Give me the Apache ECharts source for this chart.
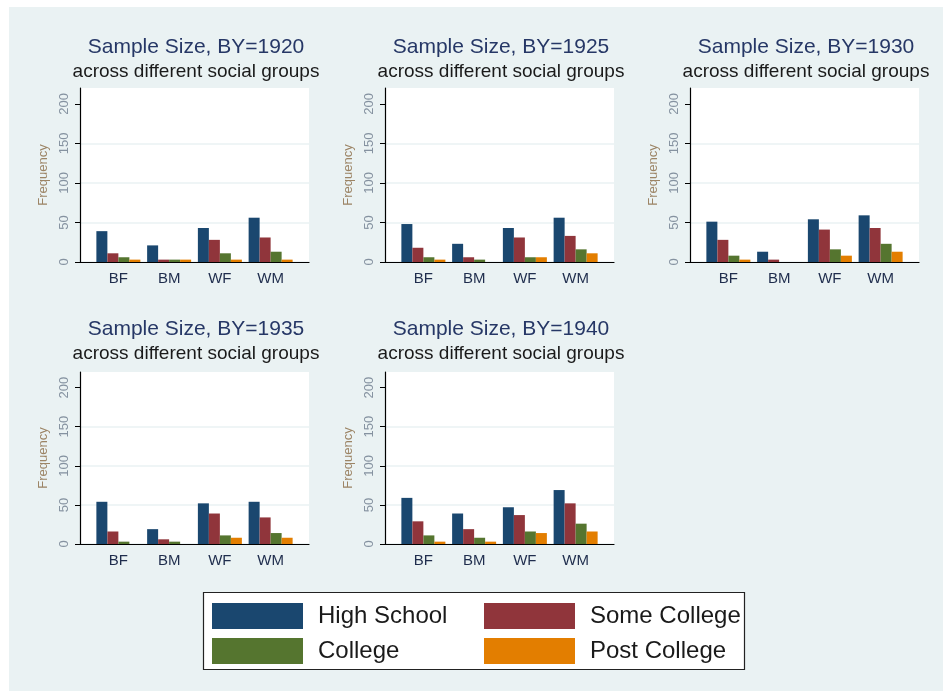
<!DOCTYPE html>
<html>
<head>
<meta charset="utf-8">
<script src="https://cdn.jsdelivr.net/npm/echarts@6/dist/echarts.min.js"></script>
<style>
html,body{margin:0;padding:0;background:#ffffff;}
#bg{position:absolute;left:9px;top:7px;width:934px;height:684px;background:#eaf2f3;}
#chart{position:absolute;left:0;top:0;width:943px;height:691px;}
</style>
</head>
<body>
<div id="bg"></div>
<div id="chart"></div>
<script>
// ---- data ----
var categories = ['BF', 'BM', 'WF', 'WM'];
var seriesNames = ['High School', 'Some College', 'College', 'Post College'];
var birthYears = [1920, 1925, 1930, 1935, 1940];
var yTicks = [0, 50, 100, 150, 200];

var hs1920 = [39, 21, 43, 56];
var sc1920 = [11, 3, 28, 31];
var co1920 = [6, 3, 11, 13];
var pc1920 = [3, 3, 3, 3];

var hs1925 = [48, 23, 43, 56];
var sc1925 = [18, 6, 31, 33];
var co1925 = [6, 3, 6, 16];
var pc1925 = [3, 0, 6, 11];

var hs1930 = [51, 13, 54, 59];
var sc1930 = [28, 3, 41, 43];
var co1930 = [8, 0, 16, 23];
var pc1930 = [3, 0, 8, 13];

var hs1935 = [54, 19, 52, 54];
var sc1935 = [16, 6, 39, 34];
var co1935 = [3, 3, 11, 14];
var pc1935 = [0, 0, 8, 8];

var hs1940 = [59, 39, 47, 69];
var sc1940 = [29, 19, 37, 52];
var co1940 = [11, 8, 16, 26];
var pc1940 = [3, 3, 14, 16];

var panelData = [
  [hs1920, sc1920, co1920, pc1920],
  [hs1925, sc1925, co1925, pc1925],
  [hs1930, sc1930, co1930, pc1930],
  [hs1935, sc1935, co1935, pc1935],
  [hs1940, sc1940, co1940, pc1940]
];

// ---- styling / layout ----
var colors = ['#1a476f', '#90353b', '#55752f', '#e37e00'];
var colStep = 305;
var rows = [{top: 88, height: 174, titleTop: 37}, {top: 372, height: 172, titleTop: 319}];
var yMax = 220;
var FONT = 'Liberation Sans, Arial, sans-serif';

var chart = echarts.init(document.getElementById('chart'));
var grids = [], xAxes = [], yAxes = [], series = [], titles = [];

birthYears.forEach(function (by, p) {
  var col = p % 3, row = rows[Math.floor(p / 3)];
  var axisX = 80 + colStep * col;
  grids.push({left: axisX, top: row.top, width: 229, height: row.height,
    show: true, backgroundColor: '#ffffff', borderWidth: 0, containLabel: false});
  grids.push({left: axisX + 13, top: row.top, width: 203, height: row.height,
    show: false, containLabel: false});
  var gd = grids.length - 2, gb = grids.length - 1;

  xAxes.push({gridIndex: gd, type: 'value', min: 0, max: 1,
    axisLine: {show: true, lineStyle: {color: '#000000', width: 1.2}},
    axisTick: {show: false}, axisLabel: {show: false}, splitLine: {show: false}});
  xAxes.push({gridIndex: gb, type: 'category', data: categories,
    axisLine: {show: false}, axisTick: {show: false},
    axisLabel: {show: true, color: '#1f2d4d', fontSize: 15, margin: 9, fontFamily: FONT}});

  yAxes.push({gridIndex: gd, type: 'value', min: 0, max: yMax, interval: 50,
    name: 'Frequency', nameLocation: 'middle', nameGap: 30, nameRotate: 90,
    nameTextStyle: {color: '#9c8465', fontSize: 13, fontFamily: FONT},
    axisLine: {show: true, lineStyle: {color: '#000000', width: 1.2}},
    axisTick: {show: true, length: 5, inside: false, customValues: yTicks, lineStyle: {color: '#000000'}},
    axisLabel: {show: true, rotate: 90, customValues: yTicks, color: '#8592a0', fontSize: 13, margin: 9, fontFamily: FONT},
    splitLine: {show: true, showMaxLine: false, lineStyle: {color: '#eaf2f3', width: 1.5}}});
  yAxes.push({gridIndex: gb, type: 'value', min: 0, max: yMax, show: false, splitLine: {show: false}});

  var xi = xAxes.length - 1, yi = yAxes.length - 1;
  panelData[p].forEach(function (vals, s) {
    series.push({type: 'bar', name: seriesNames[s], xAxisIndex: xi, yAxisIndex: yi,
      data: vals, barWidth: 11, barGap: '0%',
      itemStyle: {color: colors[s]}, silent: true});
  });

  titles.push({text: 'Sample Size, BY=' + by, subtext: 'across different social groups',
    left: axisX + 116, top: row.titleTop, textAlign: 'center', itemGap: 4, padding: 0,
    textStyle: {color: '#263766', fontSize: 21, fontWeight: 'normal', fontFamily: FONT},
    subtextStyle: {color: '#1a1a1a', fontSize: 19, fontFamily: FONT}});
});

var legendText = {color: '#1a1a1a', fontSize: 24, fontFamily: FONT, padding: [0, 0, 0, 10]};

chart.setOption({
  animation: false,
  backgroundColor: 'transparent',
  title: titles,
  grid: grids,
  xAxis: xAxes,
  yAxis: yAxes,
  series: series,
  legend: [
    {data: [seriesNames[0], seriesNames[2]], orient: 'vertical', left: 212, top: 603, padding: 0,
      itemWidth: 91, itemHeight: 26, itemGap: 9, icon: 'rect', textStyle: legendText, selectedMode: false},
    {data: [seriesNames[1], seriesNames[3]], orient: 'vertical', left: 484, top: 603, padding: 0,
      itemWidth: 91, itemHeight: 26, itemGap: 9, icon: 'rect', textStyle: legendText, selectedMode: false}
  ],
  graphic: [
    {type: 'rect', z: -1, shape: {x: 203.5, y: 592.5, width: 541, height: 77},
      style: {fill: '#ffffff', stroke: '#222222', lineWidth: 1.2}}
  ]
});
</script>
</body>
</html>
